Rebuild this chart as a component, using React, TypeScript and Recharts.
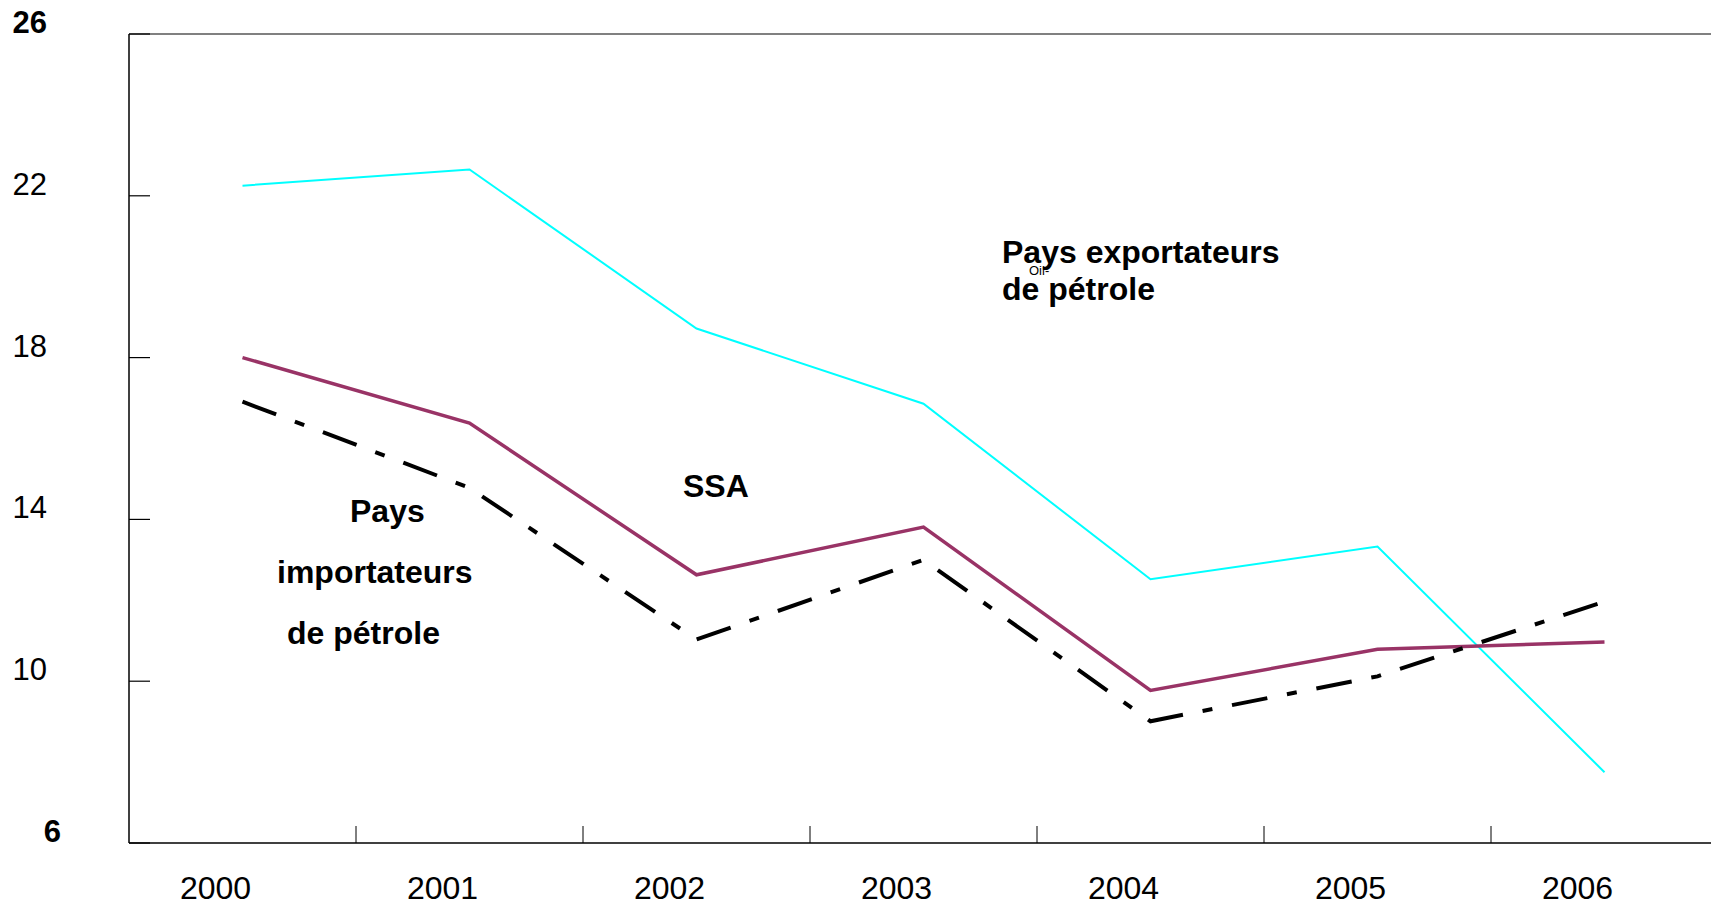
import { LineChart, Line, XAxis, YAxis, ReferenceLine } from 'recharts';

const years = ['2000', '2001', '2002', '2003', '2004', '2005', '2006'];
const oilExporters = [22.25, 22.65, 18.72, 16.86, 12.52, 13.33, 7.75];
const ssa = [18.0, 16.38, 12.63, 13.81, 9.77, 10.79, 10.97];
const oilImporters = [16.91, 14.78, 11.03, 13.0, 9.01, 10.12, 11.97];
const yTicks = [6, 10, 14, 18, 22, 26];

const data = years.map((year, i) => ({
  year,
  exporters: oilExporters[i],
  ssa: ssa[i],
  importers: oilImporters[i],
}));

const FONT = '"Liberation Sans", Arial, sans-serif';
const AXIS_X = 129;
const AXIS_Y = 843;
const HALF_BAND = 113.5;

const YTick = ({ y, payload }: any) => {
  const v = payload.value;
  const edge = v === 6 || v === 26;
  return (
    <g>
      <line x1={AXIS_X} x2={AXIS_X + 21} y1={y} y2={y} stroke="#000" strokeWidth={1.2} />
      <text
        x={v === 6 ? 61 : 47}
        y={y - 1}
        textAnchor="end"
        fontFamily={FONT}
        fontSize={31}
        fontWeight={edge ? 'bold' : 'normal'}
        fill="#000"
      >
        {v}
      </text>
    </g>
  );
};

const XTick = ({ x, payload }: any) => (
  <g>
    <line x1={x + HALF_BAND} x2={x + HALF_BAND} y1={AXIS_Y} y2={AXIS_Y - 17} stroke="#000" strokeWidth={1} />
    <text x={x - 27} y={899} textAnchor="middle" fontFamily={FONT} fontSize={32} fill="#000">
      {payload.value}
    </text>
  </g>
);

const labelStyle = { fontFamily: FONT, fontSize: 32, fontWeight: 'bold' as const, fill: '#000' };

export default function App() {
  return (
    <div style={{ position: 'absolute', left: 0, top: 0, width: 1711, height: 906, overflow: 'hidden', background: '#fff' }}>
      <LineChart width={1720} height={906} data={data} margin={{ top: 34, right: 2, bottom: 0, left: 0 }}>
        <XAxis
          dataKey="year"
          height={63}
          padding={{ left: HALF_BAND, right: HALF_BAND }}
          axisLine={{ stroke: '#000', strokeWidth: 1.5 }}
          tickLine={false}
          tick={<XTick />}
          interval={0}
        />
        <YAxis
          width={AXIS_X}
          domain={[6, 26]}
          ticks={yTicks}
          axisLine={{ stroke: '#000', strokeWidth: 1.5 }}
          tickLine={false}
          tick={<YTick />}
          interval={0}
        />
        <ReferenceLine y={26} stroke="#808080" strokeWidth={2} />
        <Line dataKey="exporters" stroke="#00FFFF" strokeWidth={2} dot={false} isAnimationActive={false} />
        <Line dataKey="ssa" stroke="#993366" strokeWidth={3.5} dot={false} isAnimationActive={false} />
        <Line
          dataKey="importers"
          stroke="#000"
          strokeWidth={4}
          strokeDasharray="36 20 10 20"
          dot={false}
          isAnimationActive={false}
        />
      </LineChart>
      <svg width={1711} height={906} style={{ position: 'absolute', left: 0, top: 0, pointerEvents: 'none' }}>
        <text x={1002} y={263} {...labelStyle}>Pays exportateurs</text>
        <text x={1029} y={275} fontFamily={FONT} fontSize={13} fill="#000">Oil-</text>
        <text x={1002} y={300} {...labelStyle}>de pétrole</text>
        <text x={683} y={497} {...labelStyle}>SSA</text>
        <text x={350} y={522} {...labelStyle}>Pays</text>
        <text x={277} y={583} {...labelStyle}>importateurs</text>
        <text x={287} y={644} {...labelStyle}>de pétrole</text>
      </svg>
    </div>
  );
}
